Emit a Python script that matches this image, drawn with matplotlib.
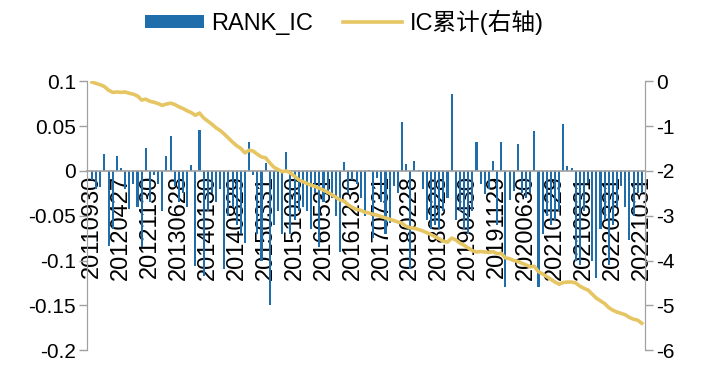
import matplotlib
matplotlib.use('Agg')
from matplotlib import pyplot as plt
import numpy as np

# monthly RANK_IC, 201109 .. 202210
rank_ic = [
    -0.010, -0.020, -0.018, 0.019, -0.084, -0.065, 0.017, 0.003, -0.020, -0.043,
    -0.015, -0.040, -0.085, 0.026, -0.035, -0.005, -0.015, -0.045, 0.017, 0.039,
    -0.017, -0.035, -0.025, -0.040, 0.006, -0.106, 0.045, -0.117, -0.045, -0.025,
    -0.035, -0.020, -0.110, -0.050, -0.040, -0.060, -0.070, -0.080, 0.032, -0.005,
    -0.070, -0.100, 0.009, -0.150, -0.060, -0.045, -0.070, 0.021, -0.070, -0.055,
    -0.045, -0.040, -0.045, -0.065, -0.025, -0.085, -0.035, -0.025, -0.030, -0.050,
    -0.090, 0.010, -0.025, -0.010, -0.015, -0.030, -0.050, 0.001, -0.075, -0.008,
    -0.035, -0.070, -0.058, -0.017, -0.025, 0.054, 0.008, -0.110, 0.011, 0.001,
    -0.020, -0.055, -0.065, -0.060, -0.065, -0.045, -0.030, 0.086, -0.055, -0.045,
    -0.065, -0.070, -0.045, 0.032, -0.015, -0.026, -0.020, 0.011, -0.060, 0.032,
    -0.130, -0.032, -0.022, 0.030, -0.025, -0.030, -0.025, 0.044, -0.130, -0.070,
    -0.050, -0.060, -0.055, -0.045, 0.052, 0.005, 0.003, -0.100, -0.105, -0.045,
    -0.013, -0.100, -0.120, -0.065, -0.055, -0.105, -0.060, -0.040, -0.017, -0.040,
    -0.077, -0.050, -0.025, -0.025,
]

# IC累计 (right axis)
ic_cum = [
    -0.02, -0.05, -0.08, -0.12, -0.20, -0.25, -0.24, -0.25, -0.24, -0.27,
    -0.29, -0.33, -0.42, -0.40, -0.45, -0.47, -0.50, -0.54, -0.51, -0.49,
    -0.52, -0.57, -0.61, -0.66, -0.70, -0.76, -0.71, -0.82, -0.89, -0.96,
    -1.04, -1.10, -1.18, -1.27, -1.36, -1.44, -1.50, -1.60, -1.54, -1.56,
    -1.63, -1.69, -1.71, -1.82, -1.92, -1.97, -2.02, -2.00, -2.05, -2.12,
    -2.20, -2.24, -2.28, -2.32, -2.35, -2.39, -2.43, -2.48, -2.53, -2.59,
    -2.65, -2.68, -2.76, -2.82, -2.86, -2.88, -2.92, -2.94, -2.97, -2.99,
    -3.02, -3.05, -3.08, -3.11, -3.14, -3.17, -3.24, -3.27, -3.28, -3.31,
    -3.34, -3.38, -3.42, -3.47, -3.52, -3.57, -3.59, -3.50, -3.54, -3.61,
    -3.66, -3.72, -3.78, -3.81, -3.80, -3.81, -3.82, -3.80, -3.85, -3.84,
    -3.94, -3.96, -4.00, -4.02, -4.06, -4.10, -4.14, -4.13, -4.25, -4.30,
    -4.36, -4.42, -4.48, -4.53, -4.49, -4.48, -4.48, -4.50, -4.57, -4.62,
    -4.66, -4.75, -4.84, -4.90, -4.96, -5.05, -5.11, -5.15, -5.18, -5.21,
    -5.27, -5.31, -5.33, -5.40,
]

tick_labels = [
    '20110930', '20120427', '20121130', '20130628', '20140130', '20140829',
    '20150331', '20151030', '20160531', '20161230', '20170731', '20180228',
    '20180928', '20190430', '20191129', '20200630', '20210129', '20210831',
    '20220331', '20221031',
]

bar_color = '#1f6eab'
line_color = '#e6c563'
axis_gray = '#a0a0a0'

plt.rcParams['font.family'] = ['Liberation Sans', 'Noto Sans CJK SC', 'DejaVu Sans']
plt.rcParams['axes.unicode_minus'] = False

x = np.arange(len(rank_ic))

fig = plt.figure(figsize=(7.02, 3.69), dpi=100)
ax = fig.add_axes([0.124, 0.051, 0.795, 0.729])
ax2 = ax.twinx()

ax.bar(x, rank_ic, width=0.5, color=bar_color, label='RANK_IC', zorder=2)
ax2.plot(x, ic_cum, color=line_color, linewidth=2.6, label='IC累计(右轴)', zorder=3)

ax.set_xlim(-1.2, len(rank_ic) - 0.2)
ax.set_ylim(-0.2, 0.1)
ax.set_yticks([0.1, 0.05, 0, -0.05, -0.1, -0.15, -0.2])
ax.set_yticklabels(['0.1', '0.05', '0', '-0.05', '-0.1', '-0.15', '-0.2'])
ax2.set_ylim(-6, 0)
ax2.set_yticks(range(0, -7, -1))

ax.set_xticks(np.arange(len(tick_labels)) * 7)
ax.set_xticklabels(tick_labels)

for a in (ax, ax2):
    a.spines['top'].set_visible(False)
    a.spines['bottom'].set_visible(False)
    a.spines['left'].set_color(axis_gray)
    a.spines['right'].set_color(axis_gray)
    a.tick_params(axis='y', labelsize=15, color=axis_gray, length=6, width=1, pad=2)

ax.spines['bottom'].set_visible(True)
ax.spines['bottom'].set_position(('data', 0))
ax.spines['bottom'].set_color(axis_gray)
ax.spines['bottom'].set_linewidth(1.2)
ax.tick_params(axis='x', labelsize=17, length=0, pad=3, labelrotation=90)
ax.set_zorder(ax2.get_zorder() - 1)
ax.patch.set_visible(False)
ax2.patch.set_visible(False)

h1, l1 = ax.get_legend_handles_labels()
h2, l2 = ax2.get_legend_handles_labels()
fig.legend(h1 + h2, l1 + l2, loc='center', bbox_to_anchor=(0.49, 0.94), ncol=2,
           frameon=False, fontsize=17, handlelength=2.5, handleheight=0.45,
           columnspacing=1.3, handletextpad=0.3)

fig.savefig('out.png', dpi=100)
